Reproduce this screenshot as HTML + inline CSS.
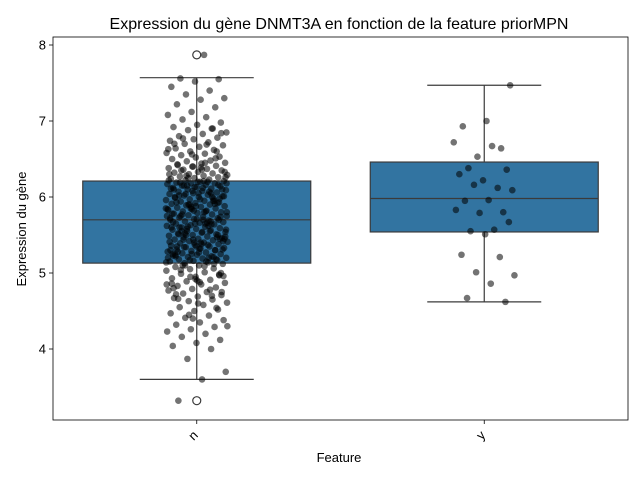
<!DOCTYPE html>
<html><head><meta charset="utf-8"><style>
body{margin:0;background:#fff;}
svg{display:block;font-family:"Liberation Sans","DejaVu Sans",sans-serif;}
</style></head><body>
<svg id="chart" width="639" height="479">
<text x="339" y="29" text-anchor="middle" font-size="16">Expression du gène DNMT3A en fonction de la feature priorMPN</text>
<text x="339" y="462" text-anchor="middle" font-size="13">Feature</text>
<text transform="translate(26,229) rotate(-90)" text-anchor="middle" font-size="13">Expression du gène</text>
<g id="plot"></g>
</svg>
<script>
const categories=["n","y"];
const boxQ1=[5.13,5.54];
const boxMedian=[5.70,5.98];
const boxQ3=[6.21,6.46];
const whiskerLow=[3.60,4.62];
const whiskerHigh=[7.57,7.47];
const outliers=[[7.87,3.32],[]];
const yTicks=[4,5,6,7,8];
const pointsY=[7.47,7.0,6.93,6.64,6.53,6.72,6.67,6.38,6.36,6.22,6.30,6.12,6.16,6.09,5.96,5.95,5.80,5.79,5.83,5.57,5.55,5.67,5.51,5.24,5.21,5.01,4.97,4.86,4.67,4.62];
const pointsN=[7.87,7.56,7.55,7.52,7.45,7.40,7.35,7.30,7.28,7.22,7.18,7.12,7.08,7.05,7.02,6.98,6.95,6.92,6.90,6.88,6.85,6.83,6.80,6.78,6.76,6.74,6.72,6.70,6.68,6.66,6.64,6.62,6.60,6.58,6.57,6.55,6.53,6.52,6.50,6.48,6.47,6.45,6.44,6.42,6.41,6.40,6.38,6.37,6.36,6.35,6.33,6.32,6.31,6.30,6.29,6.28,6.27,6.26,6.25,6.24,6.23,6.22,6.21,6.20,6.19,6.18,6.18,6.17,6.16,6.15,6.14,6.13,6.12,6.11,6.10,6.09,6.08,6.07,6.06,6.05,6.04,6.03,6.02,6.01,6.00,5.99,5.98,5.97,5.96,5.95,5.94,5.93,5.92,5.91,5.90,5.89,5.88,5.87,5.86,5.85,5.84,5.83,5.82,5.81,5.80,5.79,5.78,5.77,5.76,5.75,5.74,5.73,5.72,5.71,5.70,5.69,5.68,5.67,5.66,5.65,5.64,5.63,5.62,5.61,5.60,5.59,5.58,5.57,5.56,5.55,5.54,5.53,5.52,5.51,5.50,5.49,5.48,5.47,5.46,5.45,5.44,5.43,5.42,5.41,5.40,5.39,5.38,5.37,5.36,5.35,5.34,5.33,5.32,5.31,5.30,5.29,5.28,5.27,5.26,5.25,5.24,5.23,5.22,5.21,5.20,5.19,5.18,5.17,5.16,5.15,5.14,5.13,5.12,5.10,5.08,5.06,5.05,5.03,5.01,4.99,4.97,4.95,4.93,4.91,4.89,4.87,4.85,4.83,4.81,4.79,4.77,4.75,4.73,4.71,4.69,4.67,4.65,4.63,4.61,4.58,4.55,4.52,4.50,4.47,4.44,4.41,4.38,4.35,4.32,4.29,4.26,4.23,4.20,4.16,4.12,4.08,4.04,4.00,3.87,3.70,3.60,3.32,
6.6,6.4,6.3,6.2,6.15,6.1,6.05,6.0,5.95,5.9,5.85,5.8,5.75,5.7,5.65,5.6,5.55,5.5,5.45,5.4,5.35,5.3,5.25,5.2,5.15,5.1,5.0,4.9,4.8,4.7,6.25,6.18,6.12,6.02,5.92,5.82,5.72,5.62,5.52,5.42,5.32,5.22,5.12,4.95,4.85,6.45,6.35,5.98,5.88,5.78,5.68,5.58,5.48,5.38,5.28,5.18,6.08,6.22,5.66,5.44,4.75,4.6,6.7,6.9,4.45,4.3,
6.21,6.19,6.16,6.13,6.11,6.07,6.04,6.01,5.97,5.93,5.91,5.87,5.84,5.81,5.77,5.74,5.71,5.67,5.64,5.61,5.57,5.54,5.51,5.47,5.44,5.41,5.37,5.34,5.31,5.27,5.24,5.21,5.17,5.14,5.09,5.04,4.98,4.92,4.86,4.78,6.28,6.33,6.39,6.43,6.51,6.56,6.63,6.69,6.77,6.84,
6.2,6.1,6.0,5.9,5.8,5.7,5.6,5.5,5.4,5.3,5.2,5.1,4.96,4.88,4.72,5.95,5.85,5.75,5.65,5.55,5.45,5.35,5.25,6.05,6.15,6.26,6.36,4.66,4.54,4.4];
const X0=53,X1=628,Y0=37,Y1=420;
const yS=v=>45+(8-v)*76;
const xS=i=>X0+(i+0.5)*(X1-X0)/categories.length;
const halfW=114;
const NS="http://www.w3.org/2000/svg";
const g=document.getElementById('plot');
function mk(t,a,p){const e=document.createElementNS(NS,t);for(const k in a)e.setAttribute(k,a[k]);(p||g).appendChild(e);return e;}
let fr=mk('rect',{x:X0,y:Y0,width:X1-X0,height:Y1-Y0,fill:'none',stroke:'#000','stroke-width':0.8});


yTicks.forEach(t=>{
 const y=yS(t);
 let l=mk('line',{x1:X0-4,x2:X0,y1:y,y2:y,stroke:'#000','stroke-width':0.8});
 
 
 let tx=mk('text',{x:X0-7,y:y+4.5,'text-anchor':'end','font-size':13});
 tx.textContent=t;
 
 
});
categories.forEach((c,i)=>{
 const cx=xS(i);
 let l=mk('line',{x1:cx,x2:cx,y1:Y1,y2:Y1+4,stroke:'#000','stroke-width':0.8});
 
 
 let tx=mk('text',{'text-anchor':'end','font-size':13,transform:`translate(${cx+2},${Y1+16}) rotate(-45)`});
 tx.textContent=c;
 
 
 const st={stroke:'#3b3b3b','stroke-width':1.2};
 let w1=mk('line',Object.assign({x1:cx,x2:cx,y1:yS(whiskerHigh[i]),y2:yS(boxQ3[i])},st));
 
 
 let w2=mk('line',Object.assign({x1:cx,x2:cx,y1:yS(boxQ1[i]),y2:yS(whiskerLow[i])},st));
 
 
 [whiskerHigh[i],whiskerLow[i]].forEach(v=>{
  let cap=mk('line',Object.assign({x1:cx-57,x2:cx+57,y1:yS(v),y2:yS(v)},st));
  
  
 });
 let b=mk('rect',{x:cx-halfW,y:yS(boxQ3[i]),width:2*halfW,height:yS(boxQ1[i])-yS(boxQ3[i]),fill:'#3274a1',stroke:'#3b3b3b','stroke-width':1.2});
 
 
 let m=mk('line',Object.assign({x1:cx-halfW,x2:cx+halfW,y1:yS(boxMedian[i]),y2:yS(boxMedian[i])},st));
 
 
 outliers[i].forEach(v=>{
  let o=mk('circle',{cx:cx,cy:yS(v),r:4,fill:'none',stroke:'#3b3b3b','stroke-width':1.2});
  
  
 });
});
[pointsN,pointsY].forEach((arr,i)=>{
 const cx=xS(i);
 arr.forEach((v,k)=>{
  const f=((k+1)*0.6180339887+i*0.3)%1;
  const off=(f-0.5)*62;
  let p=mk('circle',{cx:cx+off,cy:yS(v),r:3.3,fill:'#000','fill-opacity':0.55});
  
  
 });
});
</script>
</body></html>
